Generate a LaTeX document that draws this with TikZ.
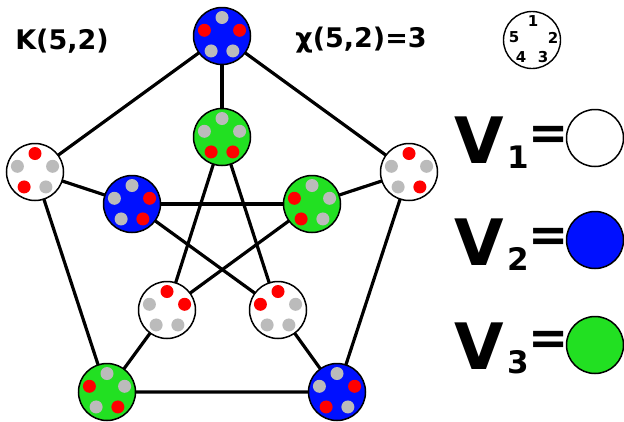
\documentclass[tikz,border=0pt]{standalone}
\usepackage{fontspec}
\setmainfont{DejaVu Sans}
\definecolor{vblue}{RGB}{0,16,255}
\definecolor{vgreen}{RGB}{34,224,34}
\definecolor{dgray}{RGB}{187,187,187}
\definecolor{dred}{RGB}{255,0,0}
\tikzset{
  vert/.style={circle, draw=black, line width=1.5pt, minimum size=57pt, inner sep=0pt},
  edge/.style={line width=3.2pt, black},
  lbl/.style={font=\bfseries\fontsize{27}{30}\selectfont, inner sep=0pt},
  big/.style={font=\bfseries\fontsize{64}{70}\selectfont, inner sep=0pt},
  eqs/.style={font=\bfseries\fontsize{48}{54}\selectfont, inner sep=0pt},
  sub/.style={font=\bfseries\fontsize{31}{34}\selectfont, inner sep=0pt},
  num/.style={font=\bfseries\fontsize{15}{17}\selectfont, inner sep=0pt},
  legc/.style={circle, draw=black, line width=1.4pt, minimum size=57pt, inner sep=0pt}
}
\newcommand{\knode}[4]{%
  \node[vert, fill=#3] (#1) at (#2) {};
  \foreach \cc [count=\ii] in {#4} {
    \fill[\cc] (#1.center) ++({90-72*(\ii-1)}:18.5pt) circle (6.5pt);
  }
}
\begin{document}
\begin{tikzpicture}[x=1pt,y=1pt]
\useasboundingbox (0,0) rectangle (624,-421);
% node positions
\coordinate (pT) at (222,-36);
\coordinate (pIT) at (222,-137);
\coordinate (pOL) at (35,-172);
\coordinate (pOR) at (409,-172);
\coordinate (pIL) at (132,-204);
\coordinate (pIR) at (312,-204);
\coordinate (pIBL) at (167,-310);
\coordinate (pIBR) at (278,-310);
\coordinate (pOBL) at (107,-392);
\coordinate (pOBR) at (337,-392);
% edges
\draw[edge] (pT) -- (pOL) -- (pOBL) -- (pOBR) -- (pOR) -- (pT);
\draw[edge] (pT) -- (pIT);
\draw[edge] (pOL) -- (pIL);
\draw[edge] (pOR) -- (pIR);
\draw[edge] (pOBL) -- (pIBL);
\draw[edge] (pOBR) -- (pIBR);
\draw[edge] (pIT) -- (pIBL);
\draw[edge] (pIT) -- (pIBR);
\draw[edge] (pIL) -- (pIR);
\draw[edge] (pIL) -- (pIBR);
\draw[edge] (pIR) -- (pIBL);
% vertices
\knode{T}{pT}{vblue}{dgray,dred,dgray,dgray,dred}
\knode{IT}{pIT}{vgreen}{dgray,dgray,dred,dred,dgray}
\knode{OL}{pOL}{white}{dred,dgray,dgray,dred,dgray}
\knode{OR}{pOR}{white}{dred,dgray,dred,dgray,dgray}
\knode{IL}{pIL}{vblue}{dgray,dred,dred,dgray,dgray}
\knode{IR}{pIR}{vgreen}{dgray,dgray,dgray,dred,dred}
\knode{IBL}{pIBL}{white}{dred,dred,dgray,dgray,dgray}
\knode{IBR}{pIBR}{white}{dred,dgray,dgray,dgray,dred}
\knode{OBL}{pOBL}{vgreen}{dgray,dgray,dred,dgray,dred}
\knode{OBR}{pOBR}{vblue}{dgray,dred,dgray,dred,dgray}
% titles
\node[lbl] (k52) at (62,-41) {K(5,2)};
\node[lbl] (chi) at (361,-40) {χ(5,2)=3};
% small legend circle
\node[legc] (leg) at (532,-40) {};
\node[num] (n1) at (533,-21.5) {1};
\node[num] (n2) at (553,-37.5) {2};
\node[num] (n3) at (543,-57) {3};
\node[num] (n4) at (521,-57) {4};
\node[num] (n5) at (514,-37.5) {5};
% legend
\node[big] (V1) at (479,-140) {V};
\node[sub] (s1) at (518,-157) {1};
\node[eqs] (e1) at (549,-138) {=};
\node[legc, line width=1.5pt, fill=white] (c1) at (595,-138) {};
\node[big] (V2) at (479,-242) {V};
\node[sub] (s2) at (518,-259) {2};
\node[eqs] (e2) at (549,-240) {=};
\node[legc, line width=1.5pt, fill=vblue] (c2) at (595,-240) {};
\node[big] (V3) at (479,-346) {V};
\node[sub] (s3) at (518,-362) {3};
\node[eqs] (e3) at (549,-343) {=};
\node[legc, line width=1.5pt, fill=vgreen] (c3) at (595,-345) {};
\end{tikzpicture}
\end{document}
